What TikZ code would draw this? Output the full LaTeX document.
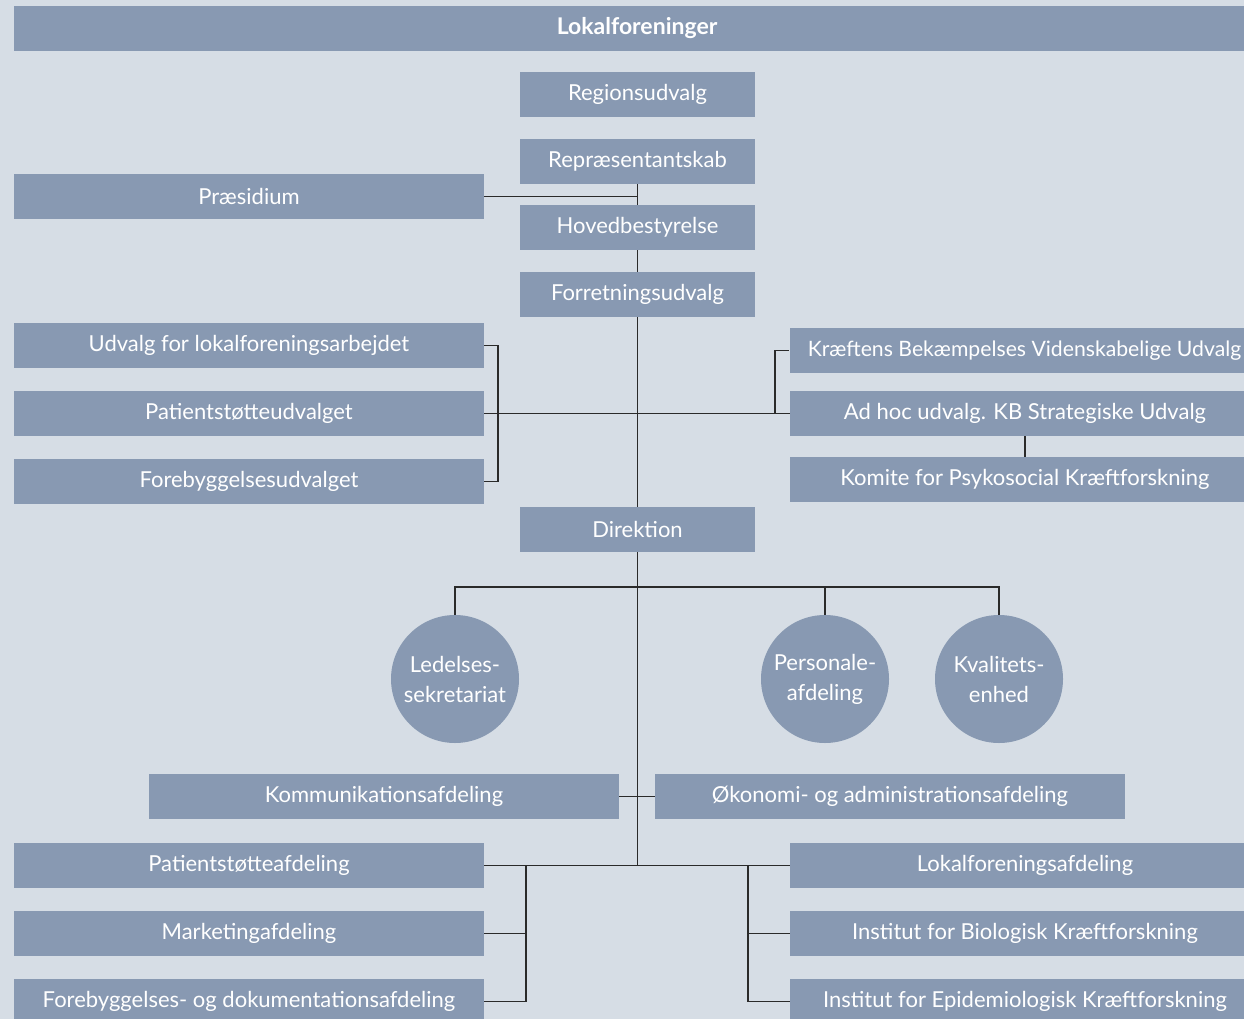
\documentclass[tikz,border=0pt]{standalone}
\usepackage{fontspec}
\setmainfont{Lato}
\definecolor{bgc}{HTML}{D6DDE5}
\definecolor{boxc}{HTML}{8899B2}
\definecolor{linec}{HTML}{2A2A2A}
\begin{document}
\begin{tikzpicture}[x=1pt,y=-1pt,
  box/.style={rectangle,fill=boxc,text=white,inner sep=0pt,font=\fontsize{22}{26}\selectfont},
  wide/.style={box,minimum width=470pt,minimum height=45pt},
  mid/.style={box,minimum width=235pt,minimum height=45pt},
  circ/.style={circle,fill=boxc,text=white,inner sep=0pt,minimum size=128pt,align=center,font=\fontsize{22}{30}\selectfont},
  conn/.style={draw=linec,line width=1.5pt}]
\useasboundingbox (0,0) rectangle (1244,1019);
\clip (0,0) rectangle (1244,1019);
\fill[bgc] (0,0) rectangle (1244,1019);

\node[box,minimum width=1246pt,minimum height=45pt,font=\fontsize{23}{26}\selectfont\bfseries] (lok) at (637,28.5) {Lokalforeninger};
\node[mid] (reg) at (637.5,94.5) {Regionsudvalg};
\node[mid] (rep) at (637.5,161.5) {Repræsentantskab};
\node[mid] (hov) at (637.5,227.5) {Hovedbestyrelse};
\node[mid] (forr) at (637.5,294.5) {Forretningsudvalg};
\node[wide] (pres) at (249,196.5) {Præsidium};

\node[wide] (udv) at (249,345.5) {Udvalg for lokalforeningsarbejdet};
\node[wide] (pat) at (249,413.5) {Patientstøtteudvalget};
\node[wide] (fore) at (249,481.5) {Forebyggelsesudvalget};

\node[wide,font=\fontsize{21.2}{26}\selectfont] (kbvu) at (1024.5,350.5) {Kræftens Bekæmpelses Videnskabelige Udvalg};
\node[wide] (adhoc) at (1025,413.5) {Ad hoc udvalg. KB Strategiske Udvalg};
\node[wide] (kom) at (1025,479.5) {Komite for Psykosocial Kræftforskning};

\node[mid] (dir) at (637.5,529.5) {Direktion};

\node[circ] (led) at (455,679) {Ledelses-\\sekretariat};
\node[circ] (pers) at (825,679) {Personale-\\afdeling};
\node[circ] (kval) at (999,679) {Kvalitets-\\enhed};

\node[wide] (komm) at (384,796.5) {Kommunikationsafdeling};
\node[wide] (oko) at (890,796.5) {Økonomi- og administrationsafdeling};

\node[wide] (patafd) at (249,865.5) {Patientstøtteafdeling};
\node[wide] (mark) at (249,933.5) {Marketingafdeling};
\node[wide] (fordok) at (249,1001.5) {Forebyggelses- og dokumentationsafdeling};

\node[wide] (lokafd) at (1025,865.5) {Lokalforeningsafdeling};
\node[wide] (inbio) at (1025,933.5) {Institut for Biologisk Kræftforskning};
\node[wide] (inepi) at (1025,1001.5) {Institut for Epidemiologisk Kræftforskning};

\coordinate (bot) at (637.5,865.5);

% top chain
\draw[conn] (rep.south) -- (hov.north);
\draw[conn] (pres.east) -- (pres.east -| rep.south);
\draw[conn] (hov.south) -- (forr.north);
\draw[conn] (forr.south) -- (dir.north);
% committees
\draw[conn] (pat.east) -- (adhoc.west);
\draw[conn] (udv.east) -- ++(14,0) |- (fore.east);
\draw[conn] (adhoc.west) -- ++(-15,0) |- (kbvu.west);
\draw[conn] (adhoc.south) -- (kom.north);
% staff
\draw[conn] (dir.south) -- (bot);
\draw[conn] (led.north) -- ++(0,-28) -| (kval.north);
\draw[conn] (pers.north) -- ++(0,-28);
\draw[conn] (komm.east) -- (oko.west);
% departments
\draw[conn] (patafd.east) -- (lokafd.west);
\draw[conn] (fordok.east) -- ++(42,0) |- (patafd.east);
\draw[conn] (mark.east) -- ++(42,0);
\draw[conn] (inepi.west) -- ++(-42,0) |- (lokafd.west);
\draw[conn] (inbio.west) -- ++(-42,0);
\end{tikzpicture}
\end{document}
